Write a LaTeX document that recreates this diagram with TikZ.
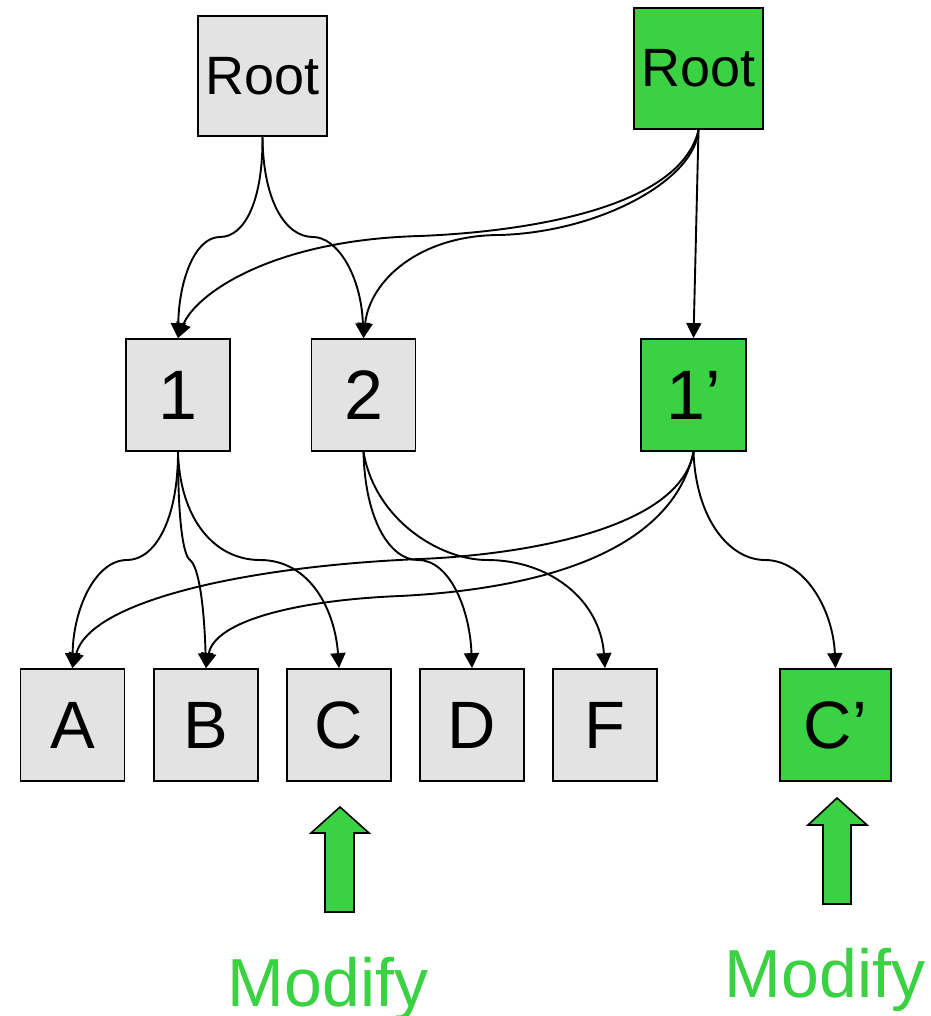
\documentclass[tikz,border=0pt]{standalone}
\usepackage{fontspec}
\setmainfont{Liberation Sans}
\usetikzlibrary{arrows.meta}
\definecolor{grn}{RGB}{58,210,66}
\definecolor{gry}{RGB}{227,227,227}
\tikzset{
  box/.style={draw=black, line width=1.8pt, fill=gry, inner sep=0pt},
  gbox/.style={box, fill=grn},
  edge/.style={line width=1.9pt, -{Triangle[length=15pt,width=15pt]}},
  blk/.style={draw=black, line width=1.6pt, fill=grn, line join=miter},
  lbl/.style={text=grn, font=\fontsize{68pt}{70pt}\selectfont, anchor=base, inner sep=0pt}
}
\begin{document}
\begin{tikzpicture}[x=1pt, y=-1pt]
\useasboundingbox (0,0) rectangle (930,1016);
% top level
\node[box, minimum width=129pt, minimum height=120pt, font=\fontsize{54pt}{56pt}\selectfont] (rootg) at (262.5,76) {Root};
\node[gbox, minimum width=129pt, minimum height=121pt, font=\fontsize{54pt}{56pt}\selectfont] (rootG) at (698.5,68.5) {Root};
% middle level
\tikzset{mid/.style={minimum width=104pt, minimum height=112pt, font=\fontsize{70pt}{72pt}\selectfont}}
\node[box, mid] (n1) at (178,395) {1};
\node[box, mid] (n2) at (363.5,395) {2};
\node[gbox, mid, minimum width=105pt] (n1p) at (693.5,395) {1’};
% leaves
\tikzset{leaf/.style={minimum width=104pt, minimum height=112pt, font=\fontsize{67pt}{69pt}\selectfont}}
\node[box, leaf] (A) at (72.5,725) {A};
\node[box, leaf] (B) at (206,725) {B};
\node[box, leaf] (C) at (339,725) {C};
\node[box, leaf] (D) at (472,725) {D};
\node[box, leaf] (F) at (605,725) {F};
\node[gbox, leaf, minimum width=111pt] (Cp) at (835.5,725) {C’};
% edges from gray root
\draw[edge] (rootg.south) .. controls (263,200) and (245,237) .. (220,237)
  .. controls (195,237) and (179,280) .. (n1.north);
\draw[edge] (rootg.south) .. controls (263,200) and (285,237) .. (313,237)
  .. controls (337,237) and (361,275) .. (n2.north);
% edges from green root
\draw[edge] (rootG.south) .. controls (680,210) and (520,232) .. (420,236)
  .. controls (270,240) and (195,295) .. (n1.north);
\draw[edge] (rootG.south) .. controls (695,180) and (600,232) .. (500,235)
  .. controls (420,235) and (370,280) .. (n2.north);
\draw[edge] (rootG.south) -- (n1p.north);
% edges from 1
\draw[edge] (n1.south) .. controls (178,520) and (155,560) .. (127,560)
  .. controls (95,560) and (73,610) .. (A.north);
\draw[edge] (n1.south) .. controls (178,520) and (183,555) .. (190,560)
  .. controls (198,566) and (204,600) .. (B.north);
\draw[edge] (n1.south) .. controls (180,520) and (215,560) .. (260,560)
  .. controls (310,560) and (335,610) .. (C.north);
% edges from 2
\draw[edge] (n2.south) .. controls (365,520) and (390,560) .. (418,560)
  .. controls (450,560) and (470,610) .. (D.north);
\draw[edge] (n2.south) .. controls (375,520) and (440,560) .. (487,560)
  .. controls (550,560) and (600,600) .. (F.north);
% edges from 1'
\draw[edge] (n1p.south) .. controls (680,530) and (520,555) .. (420,559)
  .. controls (250,566) and (90,600) .. (A.north);
\draw[edge] (n1p.south) .. controls (670,560) and (520,590) .. (400,596)
  .. controls (300,600) and (215,620) .. (B.north);
\draw[edge] (n1p.south) .. controls (696,520) and (730,560) .. (765,560)
  .. controls (805,560) and (833,610) .. (Cp.north);
% block arrows
\draw[blk] (340,807) -- (369,833) -- (354,833) -- (354,912) -- (325,912) -- (325,833) -- (311,833) -- cycle;
\draw[blk] (837,798) -- (867,825) -- (851,825) -- (851,904) -- (823,904) -- (823,825) -- (808,825) -- cycle;
% labels
\node[lbl] (mod1) at (328,1006) {Modify};
\node[lbl] (mod2) at (825,997) {Modify};
\end{tikzpicture}
\end{document}
